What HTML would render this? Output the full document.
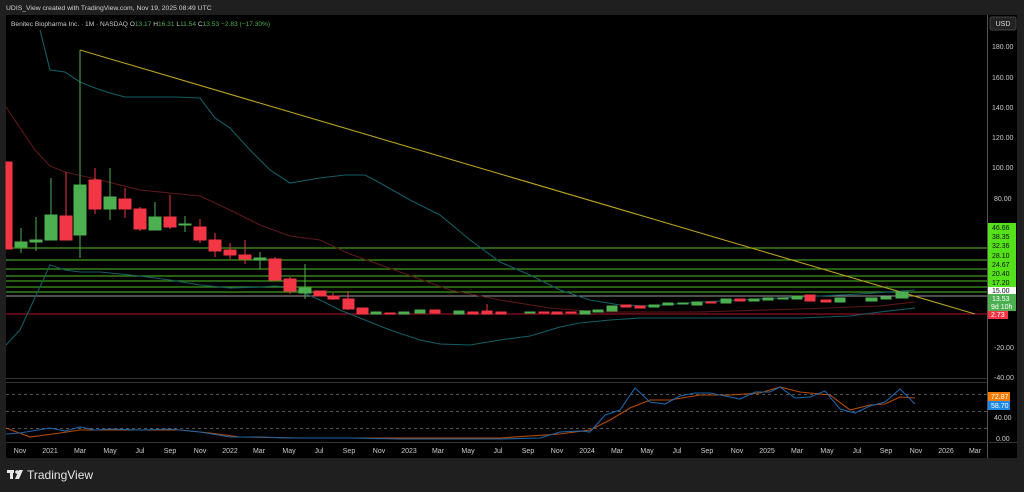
<!DOCTYPE html>
<html><head><meta charset="utf-8"><style>
body{margin:0;background:#1f1f1f;width:1024px;height:492px;overflow:hidden;font-family:"Liberation Sans",sans-serif}
svg{display:block}
</style></head><body>
<svg width="1024" height="492" viewBox="0 0 1024 492" font-family="Liberation Sans, sans-serif">
<rect width="1024" height="492" fill="#1f1f1f"/>
<text x="6" y="10" font-size="6.8" fill="#d0d0d0">UDIS_View created with TradingView.com, Nov 19, 2025 08:49 UTC</text>
<rect x="6" y="15" width="1011" height="443" fill="#000"/>
<line x1="987.5" y1="15" x2="987.5" y2="458" stroke="#555"/>
<line x1="6" y1="378.5" x2="987" y2="378.5" stroke="#333"/>
<line x1="6" y1="442.5" x2="1017" y2="442.5" stroke="#333"/>
<text x="11" y="26" font-size="6.6" fill="#ccc">Benitec Biopharma Inc. · 1M · NASDAQ <tspan fill="#ccc">O</tspan><tspan fill="#4caf50">13.17</tspan> H<tspan fill="#4caf50">16.31</tspan> L<tspan fill="#4caf50">11.54</tspan> C<tspan fill="#4caf50">13.53</tspan> <tspan fill="#4caf50">−2.83 (−17.30%)</tspan></text>
<rect x="990" y="17" width="26" height="13" rx="2" fill="#222" stroke="#444"/>
<text x="1003" y="26" font-size="7" fill="#ddd" text-anchor="middle">USD</text>
<g font-size="7" fill="#ccc">
<text x="992" y="49">180.00</text><text x="992" y="80">160.00</text><text x="992" y="110">140.00</text>
<text x="992" y="140">120.00</text><text x="992" y="170">100.00</text><text x="994" y="201">80.00</text>
<text x="994" y="350">-20.00</text><text x="994" y="380">-40.00</text>
<text x="994" y="420">40.00</text><text x="996" y="441">0.00</text>
</g>
<g stroke="#3f9a1c" stroke-width="1.2">
<line x1="6" y1="248" x2="987" y2="248"/><line x1="6" y1="260" x2="987" y2="260"/>
<line x1="6" y1="269" x2="987" y2="269"/><line x1="6" y1="276" x2="987" y2="276"/>
<line x1="6" y1="281" x2="987" y2="281"/><line x1="6" y1="287" x2="987" y2="287"/>
<line x1="6" y1="292" x2="987" y2="292"/>
</g>
<line x1="6" y1="296" x2="987" y2="296" stroke="#9a9a9a"/>
<line x1="6" y1="314" x2="987" y2="314" stroke="#8b1020" stroke-width="1.3"/>
<polyline fill="none" stroke="#135d66" stroke-width="1.1" points="40,30 50,70 65,72 80,82 95,88 110,93 125,97 150,97 175,97 200,98 215,118 230,128 250,150 270,170 290,183 320,178 345,175 365,175 380,183 410,200 440,215 470,240 500,262 530,275 560,290 590,300 620,305 650,306 700,302 800,297 860,294 915,290"/>
<polyline fill="none" stroke="#135d66" stroke-width="1.1" points="6,345 20,330 50,265 65,270 80,272 100,272 120,274 140,276 170,280 200,285 230,288 260,287 275,286 290,287 320,300 340,310 360,318 390,330 420,340 440,344 470,345 500,340 530,336 560,327 580,323 610,320 640,318 700,318 800,318 850,316 880,312 915,308"/>
<polyline fill="none" stroke="#5c1818" stroke-width="1.1" points="6,107 35,150 50,166 65,172 100,180 140,190 160,192 200,196 230,210 260,225 290,236 320,240 350,254 400,272 450,290 500,300 550,308 600,312 700,312 800,309 880,306 915,302"/>
<line x1="80" y1="50" x2="975" y2="314" stroke="#b8a020" stroke-width="1.1"/>
<g stroke="#4caf50" fill="#4caf50">
<line x1="21" y1="228" x2="21" y2="253"/><rect x="15" y="242" width="12" height="5"/>
<line x1="36" y1="217" x2="36" y2="251"/><rect x="30" y="240" width="12" height="2"/>
<line x1="51" y1="178" x2="51" y2="240"/><rect x="45" y="215" width="12" height="25"/>
<line x1="80" y1="50" x2="80" y2="258"/><rect x="74" y="185" width="12" height="50"/>
<line x1="110" y1="168" x2="110" y2="220"/><rect x="104" y="197" width="12" height="12"/>
<line x1="155" y1="202" x2="155" y2="230"/><rect x="149" y="217" width="12" height="13"/>
<line x1="185" y1="216" x2="185" y2="232"/><rect x="179" y="224" width="12" height="1"/>
<line x1="260" y1="252" x2="260" y2="269"/><rect x="254" y="258" width="12" height="2"/>
<line x1="305" y1="264" x2="305" y2="299"/><rect x="299" y="288" width="12" height="5"/>
</g>
<g stroke="#f23645" fill="#f23645">
<rect x="6" y="162" width="6" height="87"/>
<line x1="66" y1="172" x2="66" y2="240"/><rect x="60" y="216" width="12" height="24"/>
<line x1="95" y1="168" x2="95" y2="214"/><rect x="89" y="180" width="12" height="29"/>
<line x1="125" y1="188" x2="125" y2="218"/><rect x="119" y="199" width="12" height="10"/>
<line x1="140" y1="207" x2="140" y2="231"/><rect x="134" y="209" width="12" height="20"/>
<line x1="170" y1="195" x2="170" y2="229"/><rect x="164" y="217" width="12" height="10"/>
<line x1="200" y1="219" x2="200" y2="243"/><rect x="194" y="227" width="12" height="13"/>
<line x1="215" y1="233" x2="215" y2="257"/><rect x="209" y="240" width="12" height="11"/>
<line x1="230" y1="243" x2="230" y2="259"/><rect x="224" y="250" width="12" height="5"/>
<line x1="245" y1="240" x2="245" y2="264"/><rect x="239" y="255" width="12" height="4"/>
<line x1="275" y1="257" x2="275" y2="281"/><rect x="269" y="259" width="12" height="21"/>
<line x1="290" y1="277" x2="290" y2="294"/><rect x="284" y="279" width="12" height="12"/>
<rect x="314" y="291" width="12" height="5"/>
<line x1="333" y1="293" x2="333" y2="300"/><rect x="328" y="296" width="11" height="3"/>
<line x1="348" y1="291" x2="348" y2="310"/><rect x="343" y="299" width="11" height="10"/>
<rect x="357" y="308" width="11" height="6"/>
</g>
<g stroke="#4caf50" fill="#4caf50">
<rect x="371" y="312" width="10" height="2"/><rect x="399" y="312" width="10" height="2"/>
<rect x="415" y="310" width="10" height="3"/><rect x="454" y="311" width="10" height="3"/>
<rect x="525" y="312" width="10" height="1"/><rect x="580" y="311" width="10" height="3"/>
<rect x="593" y="310" width="10" height="2"/><rect x="607" y="306" width="10" height="5"/>
<rect x="649" y="305" width="10" height="2"/><rect x="663" y="303" width="10" height="2"/>
<rect x="678" y="303" width="10" height="1"/><rect x="692" y="302" width="10" height="3"/>
<rect x="721" y="299" width="10" height="4"/><rect x="749" y="299" width="10" height="2"/>
<rect x="763" y="298" width="10" height="2"/><rect x="778" y="298" width="10" height="1"/>
<rect x="792" y="296" width="10" height="3"/><rect x="835" y="298" width="10" height="4"/>
<rect x="866" y="298" width="11" height="3"/><rect x="881" y="297" width="10" height="2"/>
<rect x="896" y="292" width="12" height="6"/>
</g>
<g stroke="#f23645" fill="#f23645">
<rect x="385" y="313" width="10" height="1"/><rect x="430" y="310" width="10" height="3"/>
<rect x="468" y="312" width="10" height="2"/><line x1="487" y1="304" x2="487" y2="314"/><rect x="482" y="311" width="10" height="3"/>
<rect x="496" y="312" width="10" height="2"/><rect x="539" y="312" width="10" height="1"/>
<rect x="552" y="312" width="10" height="2"/><rect x="566" y="312" width="10" height="1"/>
<rect x="621" y="305" width="10" height="2"/><rect x="635" y="306" width="10" height="2"/>
<rect x="706" y="302" width="10" height="1"/><rect x="735" y="299" width="10" height="2"/>
<rect x="805" y="295" width="10" height="6"/><rect x="821" y="300" width="10" height="2"/>
</g>
<g font-size="7">
<rect x="988" y="223" width="28" height="9" fill="#54e01a"/><text x="992" y="230" fill="#111">46.66</text>
<rect x="988" y="232" width="28" height="9" fill="#54e01a"/><text x="992" y="239" fill="#111">38.35</text>
<rect x="988" y="241" width="28" height="9" fill="#54e01a"/><text x="992" y="248" fill="#111">32.36</text>
<rect x="988" y="250" width="28" height="10" fill="#54e01a"/><text x="992" y="258" fill="#111">28.10</text>
<rect x="988" y="260" width="28" height="9" fill="#54e01a"/><text x="992" y="267" fill="#111">24.67</text>
<rect x="988" y="269" width="28" height="9" fill="#54e01a"/><text x="992" y="276" fill="#111">20.40</text>
<rect x="988" y="278" width="28" height="9" fill="#54e01a"/><text x="992" y="285" fill="#111">17.20</text>
<rect x="988" y="287" width="28" height="7" fill="#fff"/><text x="992" y="293" fill="#111">15.00</text>
<rect x="988" y="294" width="28" height="17" fill="#4caf50"/><text x="992" y="301" fill="#fff">13.53</text><text x="991" y="309" fill="#fff">9d 10h</text>
<rect x="988" y="311" width="20" height="8" fill="#f23645"/><text x="991" y="317" fill="#fff">2.73</text>
</g>
<line x1="6" y1="382.5" x2="987" y2="382.5" stroke="#333"/>
<g stroke="#555" stroke-dasharray="3,3"><line x1="6" y1="394.5" x2="987" y2="394.5"/><line x1="6" y1="411.5" x2="987" y2="411.5"/><line x1="6" y1="428.5" x2="987" y2="428.5"/></g>
<polyline fill="none" stroke="#b64b00" stroke-width="1.1" points="6,428 30,437 60,433 80,430 110,430 140,430 180,430 210,433 240,437 300,438 400,438 500,438 560,434 590,430 610,420 630,408 650,400 670,400 700,395 730,395 760,393 780,387 800,392 830,395 850,410 870,405 885,404 900,397 915,398"/>
<polyline fill="none" stroke="#1a64a8" stroke-width="1.1" points="6,434 20,433 50,428 65,431 80,427 95,430 110,429 140,430 170,429 200,432 230,437 260,437 290,438 320,438 350,438 400,439 450,439 500,439 540,438 560,432 580,431 590,432 605,415 620,410 635,388 650,402 665,404 680,396 695,393 710,393 725,396 740,399 755,392 770,392 780,387 795,398 810,397 825,391 840,409 855,413 870,406 885,402 900,389 915,404"/>
<g font-size="7"><rect x="988" y="392" width="22" height="9" fill="#f57c00"/><text x="991" y="399" fill="#fff">72.87</text>
<rect x="988" y="401" width="22" height="9" fill="#1e88e5"/><text x="991" y="408" fill="#fff">58.70</text></g>
<g font-size="7" fill="#ccc" text-anchor="middle">
<text x="20" y="453">Nov</text><text x="50" y="453">2021</text><text x="80" y="453">Mar</text><text x="110" y="453">May</text><text x="140" y="453">Jul</text><text x="170" y="453">Sep</text><text x="200" y="453">Nov</text><text x="230" y="453">2022</text><text x="259" y="453">Mar</text><text x="289" y="453">May</text><text x="319" y="453">Jul</text><text x="349" y="453">Sep</text><text x="379" y="453">Nov</text><text x="409" y="453">2023</text><text x="438" y="453">Mar</text><text x="468" y="453">May</text><text x="498" y="453">Jul</text><text x="528" y="453">Sep</text><text x="557" y="453">Nov</text><text x="587" y="453">2024</text><text x="617" y="453">Mar</text><text x="647" y="453">May</text><text x="677" y="453">Jul</text><text x="707" y="453">Sep</text><text x="737" y="453">Nov</text><text x="767" y="453">2025</text><text x="797" y="453">Mar</text><text x="827" y="453">May</text><text x="857" y="453">Jul</text><text x="886" y="453">Sep</text><text x="916" y="453">Nov</text><text x="946" y="453">2026</text><text x="975" y="453">Mar</text>
</g>
<g fill="#e6e6e6"><rect x="7" y="470" width="7" height="3"/><rect x="10" y="470" width="3" height="9"/><circle cx="17" cy="472" r="1.8"/><polygon points="19,470 23,470 19,479 15,479"/></g>
<text x="27" y="479" font-size="12" fill="#e6e6e6">TradingView</text>
</svg>
</body></html>
